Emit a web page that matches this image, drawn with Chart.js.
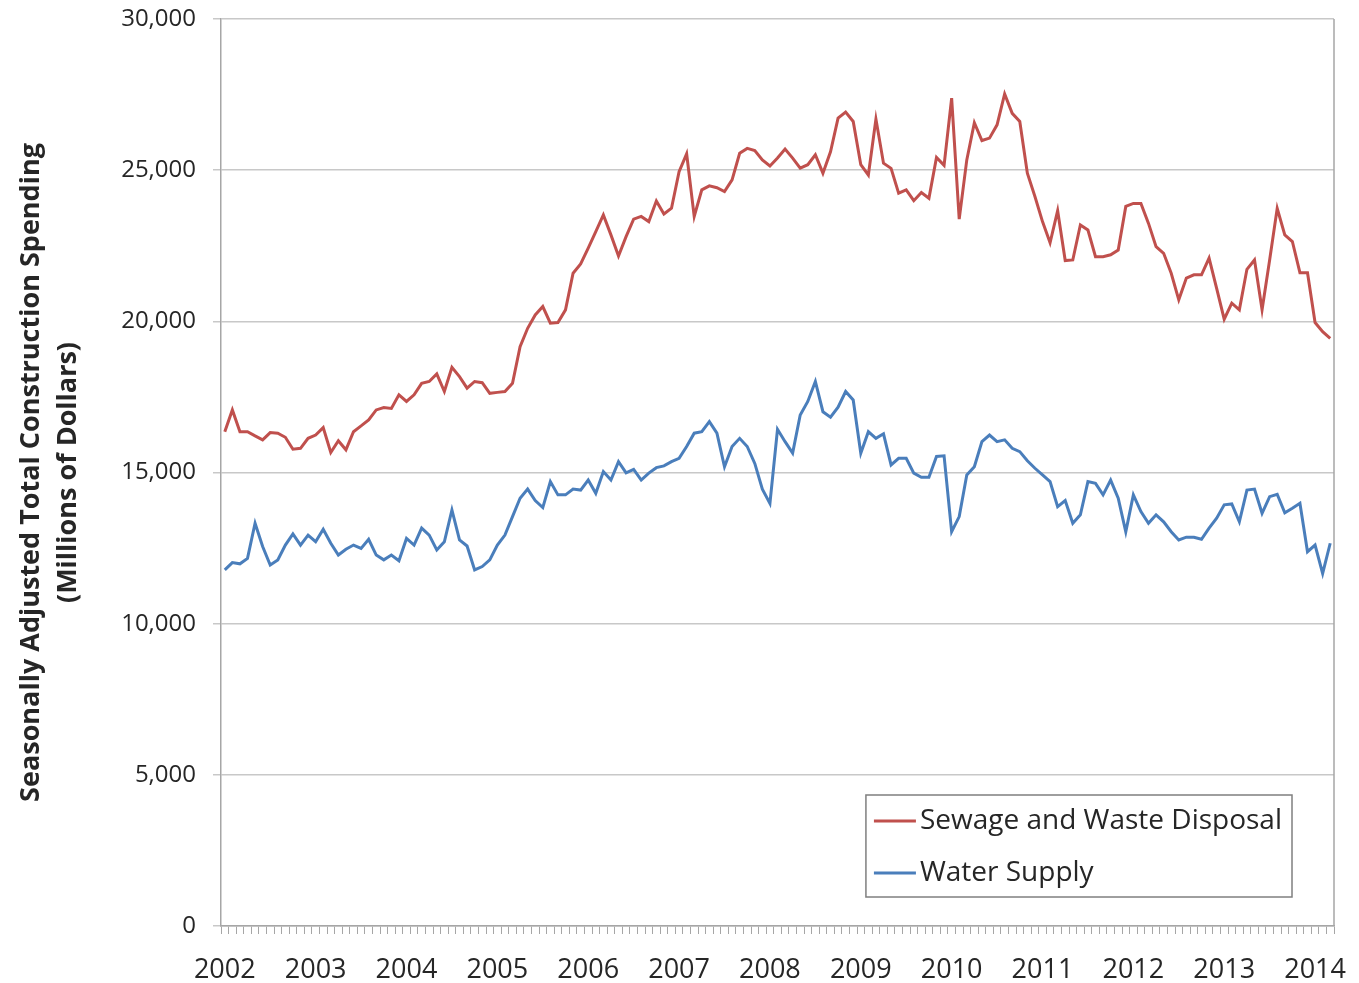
<!DOCTYPE html>
<html>
<head>
<meta charset="utf-8">
<script src="https://cdn.jsdelivr.net/npm/chart.js@4"></script>
<style>
  html, body { margin: 0; padding: 0; background: #fff; }
  canvas { display: block; }
</style>
</head>
<body>
<canvas id="grafico" width="1359" height="983"></canvas>
<script>
// anos do eixo x (um rótulo por janeiro), dados mensais de jan/2002 a mar/2014
const anos = ["2002", "2003", "2004", "2005", "2006", "2007", "2008", "2009", "2010", "2011", "2012", "2013", "2014"];
const meses = ["01", "02", "03", "04", "05", "06", "07", "08", "09", "10", "11", "12"];
const mesesUltimoAno = 3;

const yTicks = [0, 5000, 10000, 15000, 20000, 25000, 30000];

const esgoto = [
  16350, 17070, 16350, 16350, 16210, 16080, 16320, 16300, 16165, 15770, 15800, 16130,
  16240, 16485, 15660, 16050, 15750, 16350, 16540, 16740, 17070, 17150, 17120, 17570,
  17350, 17570, 17950, 18010, 18260, 17680, 18480, 18170, 17790, 18010, 17970, 17620,
  17650, 17680, 17950, 19160, 19770, 20210, 20490, 19940, 19960, 20380, 21590, 21900,
  22420, 22970, 23520, 22860, 22160, 22800, 23380, 23470, 23300, 23980, 23550, 23740,
  24950, 25540, 23470, 24350, 24480, 24420, 24290, 24680, 25560, 25720, 25650, 25340,
  25140, 25400, 25700, 25400, 25070, 25180, 25510, 24900, 25610, 26720, 26920, 26610,
  25180, 24840, 26690, 25230, 25060, 24240, 24350, 23990, 24260, 24070, 25420, 25160,
  27380, 23380, 25340, 26570, 25980, 26060, 26500, 27520, 26880, 26610, 24900, 24130,
  23300, 22600, 23660, 22010, 22030, 23190, 23020, 22140, 22140, 22200, 22360, 23800,
  23900, 23900, 23240, 22470, 22250, 21590, 20710, 21430, 21540, 21540, 22090, 21090,
  20070, 20600, 20380, 21720, 22030, 20380, 22030, 23740, 22860, 22640, 21610, 21610,
  19960, 19660, 19440
];

const agua = [
  11780, 12020, 11980, 12160, 13320, 12550, 11940, 12110, 12600, 12970, 12600, 12930,
  12710, 13120, 12660, 12270, 12460, 12600, 12490, 12790, 12270, 12110, 12270, 12080,
  12820, 12600, 13160, 12930, 12440, 12710, 13760, 12770, 12570, 11780, 11890, 12110,
  12600, 12930, 13540, 14150, 14450, 14070, 13840, 14700, 14260, 14260, 14450, 14420,
  14750, 14310, 15030, 14750, 15360, 14990, 15100, 14750, 14980, 15160, 15220, 15360,
  15470, 15860, 16300, 16350, 16680, 16300, 15190, 15860, 16130, 15860, 15300, 14450,
  13980, 16430, 16020, 15640, 16900, 17350, 18010, 17010, 16830, 17160, 17680, 17400,
  15640, 16350, 16130, 16280, 15250, 15470, 15470, 14980, 14840, 14840, 15530, 15550,
  13040, 13540, 14920, 15190, 16020, 16240, 16020, 16080, 15800, 15690, 15390, 15140,
  14920, 14700, 13870, 14070, 13320, 13600, 14700, 14640, 14260, 14750, 14150, 13040,
  14260, 13710, 13320, 13600, 13370, 13040, 12770, 12860, 12860, 12790, 13160, 13490,
  13930, 13960, 13370, 14420, 14450, 13650, 14200, 14280, 13670, 13820, 13980, 12380,
  12600, 11660, 12660
];

const rotulos = [];
anos.forEach((ano, i) => {
  const lista = i === anos.length - 1 ? meses.slice(0, mesesUltimoAno) : meses;
  lista.forEach(m => rotulos.push(`${ano}-${m}`));
});

const FONTE = '"Open Sans", "DejaVu Sans", sans-serif';
const COR_TEXTO = "#262626";

// legenda com moldura dentro da área do gráfico, canto inferior direito
const legendaBox = {
  id: "legendaBox",
  afterDraw(chart) {
    const { ctx, chartArea } = chart;
    const datasets = chart.data.datasets;
    ctx.save();
    ctx.font = `28px ${FONTE}`;
    const larguraTexto = Math.max(...datasets.map(d => ctx.measureText(d.label).width));
    const largura = 8 + 42 + 4 + larguraTexto + 10;
    const altura = 102;
    const x = chartArea.right - 42 - largura;
    const y = chartArea.bottom - 29 - altura;

    ctx.fillStyle = "#fff";
    ctx.fillRect(x, y, largura, altura);
    ctx.strokeStyle = "#7f7f7f";
    ctx.lineWidth = 1.5;
    ctx.strokeRect(x, y, largura, altura);

    datasets.forEach((d, i) => {
      const cy = y + 26 + i * 52;
      ctx.strokeStyle = d.borderColor;
      ctx.lineWidth = 3;
      ctx.beginPath();
      ctx.moveTo(x + 8, cy);
      ctx.lineTo(x + 50, cy);
      ctx.stroke();
      ctx.fillStyle = COR_TEXTO;
      ctx.textBaseline = "middle";
      ctx.textAlign = "left";
      ctx.fillText(d.label, x + 54, cy);
    });
    ctx.restore();
  }
};

// borda direita da área de plotagem
const bordaDireita = {
  id: "bordaDireita",
  beforeDatasetsDraw(chart) {
    const { ctx, chartArea } = chart;
    ctx.save();
    ctx.strokeStyle = "#a6a6a6";
    ctx.lineWidth = 1.5;
    ctx.beginPath();
    ctx.moveTo(chartArea.right, chartArea.top);
    ctx.lineTo(chartArea.right, chartArea.bottom);
    ctx.stroke();
    ctx.restore();
  }
};

new Chart(document.getElementById("grafico"), {
  type: "line",
  data: {
    labels: rotulos,
    datasets: [
      {
        label: "Sewage and Waste Disposal",
        data: esgoto,
        borderColor: "#c0504d",
        borderWidth: 3,
        pointRadius: 0,
        tension: 0,
      },
      {
        label: "Water Supply",
        data: agua,
        borderColor: "#4a7ebb",
        borderWidth: 3,
        pointRadius: 0,
        tension: 0,
      }
    ]
  },
  options: {
    responsive: false,
    animation: false,
    layout: {
      padding: { top: 19, right: 25, left: 0, bottom: 0 }
    },
    plugins: {
      legend: { display: false },
      tooltip: { enabled: false }
    },
    scales: {
      x: {
        type: "category",
        offset: true,
        afterFit(scale) { scale.height = 57; },
        grid: {
          offset: true,
          drawOnChartArea: false,
          drawTicks: true,
          tickLength: 8,
          color: "#a6a6a6"
        },
        border: { display: true, color: "#a6a6a6", width: 1.5 },
        ticks: {
          autoSkip: false,
          maxRotation: 0,
          minRotation: 0,
          padding: 20,
          color: COR_TEXTO,
          font: { family: FONTE, size: 27 },
          callback(valor, indice) {
            const r = rotulos[indice];
            return r.endsWith("-01") ? r.slice(0, 4) : "";
          }
        }
      },
      y: {
        min: yTicks[0],
        max: yTicks[yTicks.length - 1],
        afterFit(scale) {
          scale.width = 221;
          scale.paddingTop = 0;
          scale.paddingBottom = 0;
        },
        afterBuildTicks(scale) {
          scale.ticks = yTicks.map(v => ({ value: v }));
        },
        grid: {
          color: "#c8c8c8",
          lineWidth: 1.5,
          drawTicks: true,
          tickLength: 8
        },
        border: { display: true, color: "#a6a6a6", width: 1.5 },
        ticks: {
          padding: 17,
          color: COR_TEXTO,
          font: { family: FONTE, size: 24 },
          callback: v => v.toLocaleString("en-US")
        },
        title: {
          display: true,
          text: ["Seasonally Adjusted Total Construction Spending", "(Millions of Dollars)"],
          color: COR_TEXTO,
          font: { family: FONTE, size: 27, weight: "bold", lineHeight: 1.4 },
          padding: { top: 12, bottom: 0 }
        }
      }
    }
  },
  plugins: [bordaDireita, legendaBox]
});
</script>
</body>
</html>
